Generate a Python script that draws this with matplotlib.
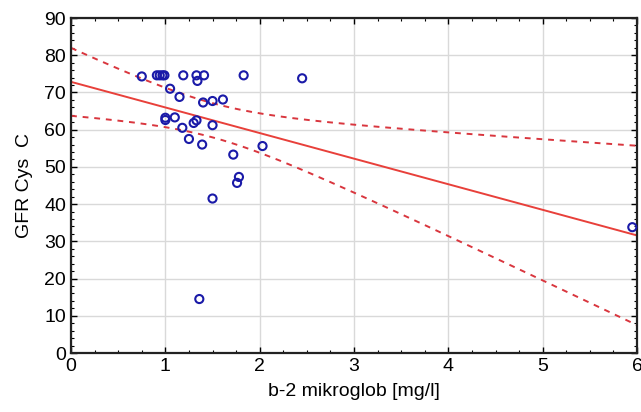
import numpy as np
import matplotlib
matplotlib.use("Agg")
import matplotlib.pyplot as plt
from matplotlib.ticker import MultipleLocator

plt.rcParams['font.family'] = ['Liberation Sans', 'DejaVu Sans']

# data
b2m = [0.75, 0.91, 0.94, 0.97, 0.99, 1.19, 1.33, 1.34, 1.41, 1.83, 2.45,
       1.05, 1.15, 1.40, 1.50, 1.61, 1.00, 1.00, 1.10, 1.30, 1.33, 1.50,
       1.18, 1.25, 1.39, 1.72, 2.03, 1.78, 1.76, 1.50, 1.36, 5.95]
gfr = [74.3, 74.6, 74.6, 74.6, 74.6, 74.6, 74.6, 73.1, 74.6, 74.6, 73.8,
       71.0, 68.8, 67.3, 67.7, 68.1, 63.2, 62.6, 63.3, 61.8, 62.5, 61.2,
       60.5, 57.5, 56.0, 53.3, 55.6, 47.3, 45.7, 41.5, 14.5, 33.8]

x = np.array(b2m)
y = np.array(gfr)
n = len(x)
b, a = np.polyfit(x, y, 1)
xs = np.linspace(0, 6, 200)
fit = a + b * xs
resid = y - (a + b * x)
s = np.sqrt(np.sum(resid ** 2) / (n - 2))
sxx = np.sum((x - x.mean()) ** 2)
tval = 2.04
half = tval * s * np.sqrt(1.0 / n + (xs - x.mean()) ** 2 / sxx)

fig = plt.figure(figsize=(6.41, 4.12), dpi=100)
ax = fig.add_axes([0.1108, 0.1432, 0.8830, 0.8131])

ax.grid(True, color='#d9d9d9', linewidth=1.0, zorder=0)
ax.plot(xs, fit, color='#e8403a', linewidth=1.4, zorder=2)
ax.plot(xs, fit + half, color='#d9363e', linewidth=1.4, linestyle=(0, (3, 3)), zorder=2)
ax.plot(xs, fit - half, color='#d9363e', linewidth=1.4, linestyle=(0, (3, 3)), zorder=2)
ax.scatter(x, y, s=34, facecolors='none', edgecolors='#1a1aa8', linewidths=1.5, zorder=3, clip_on=False)

ax.set_xlim(0, 6)
ax.set_ylim(0, 90)
ax.xaxis.set_major_locator(MultipleLocator(1))
ax.xaxis.set_minor_locator(MultipleLocator(0.25))
ax.yaxis.set_major_locator(MultipleLocator(10))
ax.yaxis.set_minor_locator(MultipleLocator(2))
ax.tick_params(which='both', direction='in', top=True, right=True, labelsize=14, colors='black')
ax.tick_params(which='major', length=4, width=1.0)
ax.tick_params(which='minor', length=2, width=0.8)
for sp in ax.spines.values():
    sp.set_linewidth(1.6)
    sp.set_color('#222222')

ax.set_xlabel('b-2 mikroglob [mg/l]', fontsize=14, labelpad=6)
ax.set_ylabel('GFR Cys  C', fontsize=14, labelpad=8)

fig.savefig('out.png', dpi=100)
